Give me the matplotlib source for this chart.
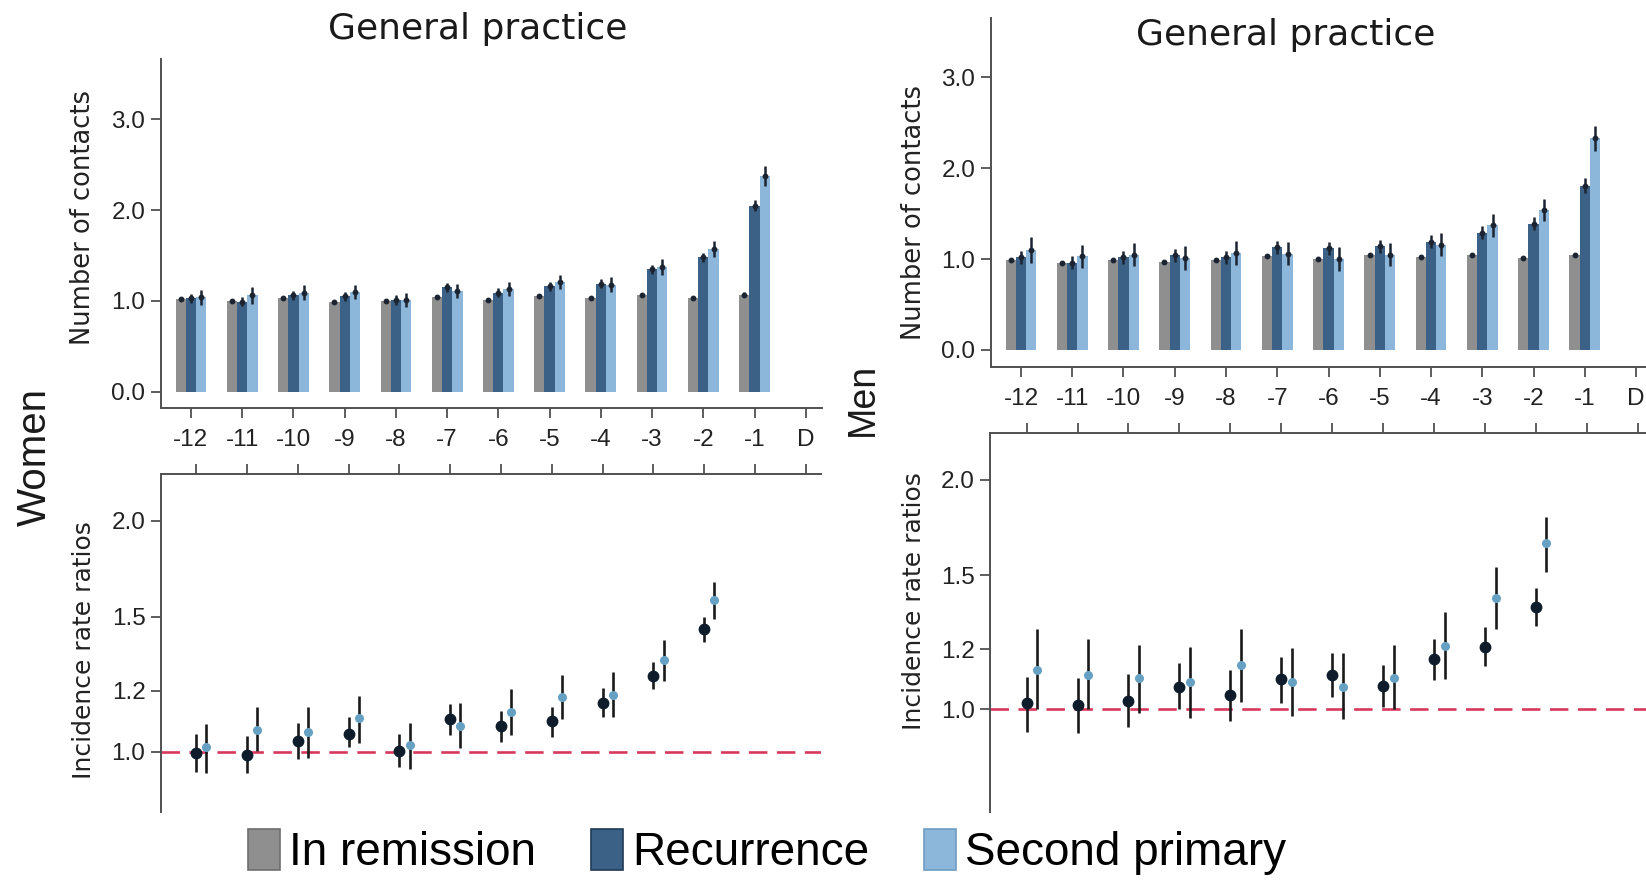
import numpy as np
import matplotlib
matplotlib.use("Agg")
import matplotlib.pyplot as plt
from matplotlib.patches import Patch
from matplotlib.ticker import FixedLocator, NullLocator, FixedFormatter

# ---- data -------------------------------------------------------------
months = ["-12", "-11", "-10", "-9", "-8", "-7", "-6", "-5", "-4", "-3", "-2", "-1", "D"]
series_names = ["In remission", "Recurrence", "Second primary"]

# mean number of GP contacts per month before the event (women)
women_rem = [1.02, 1.00, 1.03, 0.99, 1.00, 1.04, 1.01, 1.05, 1.03, 1.06, 1.03, 1.07]
women_rec = [1.03, 0.99, 1.06, 1.05, 1.01, 1.15, 1.09, 1.16, 1.19, 1.35, 1.48, 2.05]
women_sec = [1.04, 1.06, 1.09, 1.10, 1.01, 1.11, 1.13, 1.21, 1.18, 1.37, 1.57, 2.38]
women_rem_err = [0.02, 0.02, 0.02, 0.02, 0.02, 0.02, 0.02, 0.02, 0.02, 0.02, 0.02, 0.03]
women_rec_err = [0.05, 0.05, 0.05, 0.05, 0.05, 0.05, 0.05, 0.05, 0.05, 0.05, 0.05, 0.06]
women_sec_err = [0.08, 0.09, 0.08, 0.08, 0.08, 0.08, 0.08, 0.08, 0.08, 0.09, 0.09, 0.11]

# mean number of GP contacts per month before the event (men)
men_rem = [0.99, 0.955, 0.99, 0.97, 0.99, 1.03, 1.00, 1.05, 1.02, 1.05, 1.01, 1.04]
men_rec = [1.02, 0.96, 1.02, 1.04, 1.02, 1.13, 1.12, 1.14, 1.19, 1.29, 1.39, 1.81]
men_sec = [1.10, 1.03, 1.05, 1.01, 1.07, 1.06, 1.00, 1.05, 1.16, 1.37, 1.54, 2.33]
men_rem_err = [0.02, 0.02, 0.02, 0.02, 0.02, 0.02, 0.02, 0.02, 0.02, 0.02, 0.02, 0.02]
men_rec_err = [0.07, 0.07, 0.07, 0.07, 0.07, 0.07, 0.07, 0.07, 0.07, 0.07, 0.07, 0.08]
men_sec_err = [0.14, 0.13, 0.13, 0.13, 0.13, 0.13, 0.13, 0.13, 0.13, 0.13, 0.12, 0.14]

# incidence rate ratios vs. remission, months -12 .. -2 (women)
women_irr_rec = [0.995, 0.99, 1.033, 1.053, 1.002, 1.103, 1.081, 1.096, 1.156, 1.257, 1.444]
women_irr_rec_lo = [0.942, 0.939, 0.978, 1.013, 0.954, 1.051, 1.030, 1.046, 1.109, 1.206, 1.390]
women_irr_rec_hi = [1.054, 1.048, 1.089, 1.109, 1.054, 1.154, 1.131, 1.145, 1.210, 1.310, 1.497]
women_irr_sec = [1.013, 1.067, 1.062, 1.105, 1.020, 1.081, 1.128, 1.178, 1.186, 1.317, 1.577]
women_irr_sec_lo = [0.939, 1.002, 0.982, 1.025, 0.948, 1.010, 1.051, 1.102, 1.109, 1.238, 1.488]
women_irr_sec_hi = [1.087, 1.145, 1.145, 1.182, 1.089, 1.159, 1.206, 1.259, 1.270, 1.398, 1.667]

# incidence rate ratios vs. remission, months -12 .. -2 (men)
men_irr_rec = [1.018, 1.012, 1.026, 1.069, 1.044, 1.095, 1.110, 1.073, 1.163, 1.208, 1.364]
men_irr_rec_lo = [0.935, 0.930, 0.947, 1.000, 0.966, 1.018, 1.039, 1.008, 1.093, 1.140, 1.286]
men_irr_rec_hi = [1.104, 1.098, 1.112, 1.151, 1.126, 1.173, 1.187, 1.143, 1.236, 1.281, 1.442]
men_irr_sec = [1.126, 1.111, 1.098, 1.086, 1.142, 1.086, 1.071, 1.099, 1.212, 1.402, 1.652]
men_irr_sec_lo = [1.000, 1.000, 0.988, 0.973, 1.023, 0.980, 0.970, 1.000, 1.095, 1.273, 1.516]
men_irr_sec_hi = [1.273, 1.236, 1.215, 1.206, 1.273, 1.202, 1.184, 1.215, 1.343, 1.538, 1.791]

bar_ticks = [0.0, 1.0, 2.0, 3.0]
irr_ticks = [1.0, 1.2, 1.5, 2.0]

# ---- style ------------------------------------------------------------
C_REM = "#8f8f8f"
C_REC = "#3b6186"
C_SEC = "#8cb7da"
C_PT_DARK = "#0e1c2c"
C_PT_LIGHT = "#66a1c4"
C_REF = "#d7395d"
C_AX = "#505050"
C_TXT = "#222222"

TICK_FONT = "Liberation Sans"
LABEL_FONT = "DejaVu Sans"

W, H = 1646, 880
fig = plt.figure(figsize=(W / 100, H / 100), dpi=100)
fig.patch.set_facecolor("white")


def frac(x0, y0, x1, y1):
    """Convert a pixel box (left, top, right, bottom) to figure fractions."""
    return [x0 / W, 1 - y1 / H, (x1 - x0) / W, (y1 - y0) / H]


def style_axis(ax):
    for s in ax.spines.values():
        s.set_color(C_AX)
        s.set_linewidth(1.4)
    ax.tick_params(direction="out", length=7, width=1.3, color=C_AX,
                   labelcolor=C_TXT, labelsize=17.5, pad=4)
    for lab in ax.get_xticklabels() + ax.get_yticklabels():
        lab.set_fontfamily(TICK_FONT)


def bar_panel(ax, rem, rec, sec, rem_e, rec_e, sec_e, xlim, ylim, label_x, label_y):
    n = len(rem)
    x = np.arange(n)
    w = 0.2
    for off, vals, errs, col in ((-w, rem, rem_e, C_REM),
                                 (0.0, rec, rec_e, C_REC),
                                 (w, sec, sec_e, C_SEC)):
        ax.bar(x + off, vals, width=w, color=col, edgecolor="none", zorder=2)
        ax.errorbar(x + off, vals, yerr=errs, fmt="o", ms=3.2, color="#1b2430",
                    ecolor="#1b2430", elinewidth=1.8, capsize=0, zorder=3)
    ax.set_xlim(*xlim)
    ax.set_ylim(*ylim)
    ax.spines["top"].set_visible(False)
    ax.spines["right"].set_visible(False)
    ax.xaxis.set_major_locator(FixedLocator(np.arange(len(months))))
    ax.set_xticklabels(months)
    ax.yaxis.set_major_locator(FixedLocator(bar_ticks))
    ax.set_yticklabels([f"{t:.1f}" for t in bar_ticks])
    style_axis(ax)
    ax.tick_params(axis="x", pad=8)
    ax.set_ylabel("Number of contacts", fontsize=18.5, family=LABEL_FONT, color=C_TXT)
    ax.yaxis.set_label_coords(label_x, label_y)


def irr_panel(ax, rec, rec_lo, rec_hi, sec, sec_lo, sec_hi, xlim, ylim, label_x, label_y):
    n = len(rec)
    x = np.arange(n)
    ax.set_yscale("log")
    ax.axhline(1.0, color=C_REF, lw=1.9, dashes=(7, 3.6), zorder=1)
    rec = np.array(rec)
    sec = np.array(sec)
    ax.errorbar(x, rec, yerr=[rec - np.array(rec_lo), np.array(rec_hi) - rec],
                fmt="o", ms=7.5, color=C_PT_DARK, ecolor="#1a1a1a",
                elinewidth=1.9, capsize=0, zorder=3)
    ax.errorbar(x + 0.2, sec, yerr=[sec - np.array(sec_lo), np.array(sec_hi) - sec],
                fmt="o", ms=5.5, color=C_PT_LIGHT, ecolor="#1a1a1a",
                elinewidth=1.9, capsize=0, zorder=3)
    ax.set_xlim(*xlim)
    ax.set_ylim(*ylim)
    ax.spines["bottom"].set_visible(False)
    ax.spines["right"].set_visible(False)
    ax.xaxis.tick_top()
    ax.xaxis.set_major_locator(FixedLocator(np.arange(len(months))))
    ax.tick_params(axis="x", labeltop=False, labelbottom=False)
    ax.yaxis.set_major_locator(FixedLocator(irr_ticks))
    ax.yaxis.set_minor_locator(NullLocator())
    ax.yaxis.set_major_formatter(FixedFormatter([f"{t:.1f}" for t in irr_ticks]))
    style_axis(ax)
    ax.set_ylabel("Incidence rate ratios", fontsize=18, family=LABEL_FONT, color=C_TXT)
    ax.yaxis.set_label_coords(label_x, label_y)


# ---- women ------------------------------------------------------------
ax_wt = fig.add_axes(frac(160.7, 59.3, 821.7, 407.7))
bar_panel(ax_wt, women_rem, women_rec, women_sec,
          women_rem_err, women_rec_err, women_sec_err,
          (-0.59, 12.31), (-0.176, 3.66), -0.098, 0.547)

ax_wb = fig.add_axes(frac(160.7, 474.0, 820.7, 811.7))
irr_panel(ax_wb, women_irr_rec, women_irr_rec_lo, women_irr_rec_hi,
          women_irr_sec, women_irr_sec_lo, women_irr_sec_hi,
          (-0.695, 12.29), (0.835, 2.303), -0.098, 0.479)

# ---- men --------------------------------------------------------------
ax_mt = fig.add_axes(frac(990.7, 18.3, 1652.0, 366.7))
bar_panel(ax_mt, men_rem, men_rec, men_sec,
          men_rem_err, men_rec_err, men_sec_err,
          (-0.59, 12.31), (-0.184, 3.65), -0.096, 0.444)

ax_mb = fig.add_axes(frac(990.0, 433.3, 1652.0, 811.7))
irr_panel(ax_mb, men_irr_rec, men_irr_rec_lo, men_irr_rec_hi,
          men_irr_sec, men_irr_sec_lo, men_irr_sec_hi,
          (-0.717, 12.27), (0.734, 2.303), -0.096, 0.556)

# ---- titles and side labels ------------------------------------------
fig.text(477.6 / W, 1 - 29.4 / H, "General practice", ha="center", va="center",
         fontsize=26, family=LABEL_FONT, color="#1a1a1a")
fig.text(1286 / W, 1 - 34.6 / H, "General practice", ha="center", va="center",
         fontsize=26, family=LABEL_FONT, color="#1a1a1a")
fig.text(35 / W, 1 - 456.6 / H, "Women", rotation=90, ha="center", va="center",
         fontsize=29, family=TICK_FONT, color="#1a1a1a")
fig.text(863 / W, 1 - 399 / H, "Men", rotation=90, ha="center", va="center",
         fontsize=27, family=TICK_FONT, color="#1a1a1a")

# ---- legend -----------------------------------------------------------
handles = [Patch(facecolor=C_REM, edgecolor="#6e6e6e", lw=1.2),
           Patch(facecolor=C_REC, edgecolor="#1f3a56", lw=1.2),
           Patch(facecolor=C_SEC, edgecolor="#6d9cc4", lw=1.2)]
fig.legend(handles, series_names, loc="center", ncol=3, frameon=False,
           bbox_to_anchor=(767 / W, 1 - 852 / H),
           prop={"family": TICK_FONT, "size": 33},
           handlelength=0.7, handleheight=1.0, handletextpad=0.2,
           columnspacing=1.2)

fig.savefig("out.png", dpi=100, facecolor="white")
